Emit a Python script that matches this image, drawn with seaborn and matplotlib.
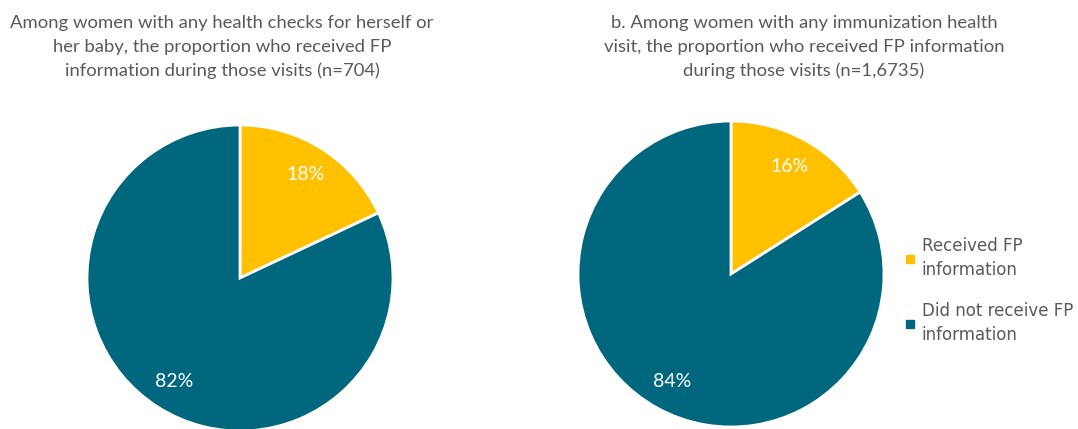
import matplotlib
matplotlib.use("Agg")
import matplotlib.pyplot as plt
import seaborn as sns
from matplotlib.lines import Line2D

# ---- data ----
categories = ["Received FP information", "Did not receive FP information"]
legend_labels = ["Received FP\ninformation", "Did not receive FP\ninformation"]
pie_a_values = [18, 82]
pie_b_values = [16, 84]
title_a = ("Among women with any health checks for herself or\n"
           "her baby, the proportion who received FP\n"
           "information during those visits (n=704)")
title_b = ("b. Among women with any immunization health\n"
           "visit, the proportion who received FP information\n"
           "during those visits (n=1,6735)")

sns.set_theme(style="white")
colors = ["#FFC000", "#00677F"]
text_grey = "#595959"
title_font = ["Lato", "DejaVu Sans"]

W, H = 1078, 429
fig = plt.figure(figsize=(W / 100, H / 100), dpi=100)
fig.patch.set_facecolor("white")


def pie_axes(cx, cy_top, r):
    cy = H - cy_top
    return fig.add_axes([(cx - r) / W, (cy - r) / H, 2 * r / W, 2 * r / H])


def draw_pie(ax, values):
    ax.pie(values, colors=colors, startangle=90, counterclock=False,
           autopct=lambda p: f"{p:.0f}%", pctdistance=0.8,
           wedgeprops=dict(edgecolor="white", linewidth=2),
           textprops=dict(color="white", fontsize=14, family=title_font))
    ax.set_xlim(-1, 1)
    ax.set_ylim(-1, 1)
    ax.set_aspect("equal")
    ax.axis("off")


ax1 = pie_axes(240, 278, 153)
draw_pie(ax1, pie_a_values)
ax2 = pie_axes(731, 274, 153)
draw_pie(ax2, pie_b_values)

fig.text(222 / W, 1 - 47 / H, title_a, ha="center", va="center",
         fontsize=13.3, color=text_grey, family=title_font, linespacing=1.55)
fig.text(804 / W, 1 - 47 / H, title_b, ha="center", va="center",
         fontsize=13.3, color=text_grey, family=title_font, linespacing=1.55)

handles = [Line2D([0], [0], marker="s", linestyle="", markersize=6,
                  markerfacecolor=c, markeredgecolor=c) for c in colors]
leg = fig.legend(handles, legend_labels, loc="upper left",
                 bbox_to_anchor=(891 / W, 1 - 222 / H), frameon=False,
                 handlelength=0.5, handletextpad=0.45, labelspacing=1.35,
                 prop=dict(family="DejaVu Sans", size=12))
for t in leg.get_texts():
    t.set_color(text_grey)
    t.set_linespacing(1.45)

fig.savefig("out.png", dpi=100, facecolor="white")
